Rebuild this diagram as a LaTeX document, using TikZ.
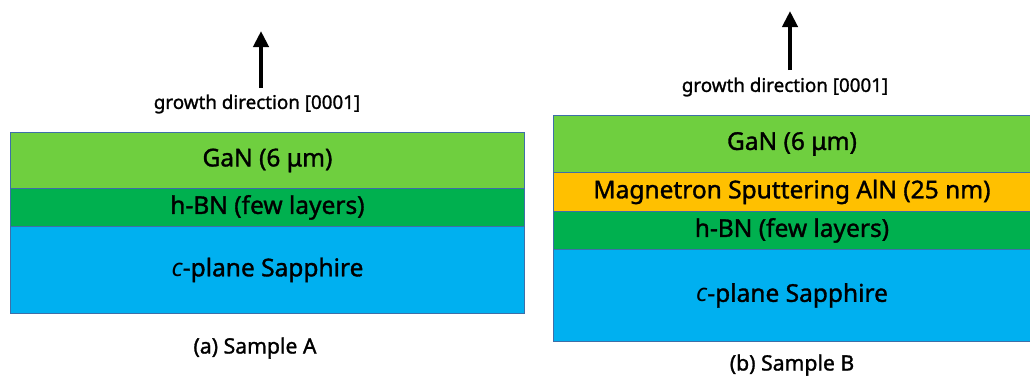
\documentclass[tikz,border=0pt]{standalone}
\usepackage{fontspec}
\setmainfont{Noto Sans}[AutoFakeBold=1.3]
\usetikzlibrary{arrows.meta}
\definecolor{ganc}{HTML}{6FCF3F}
\definecolor{hbnc}{HTML}{00B04F}
\definecolor{sapc}{HTML}{00B0F0}
\definecolor{alnc}{HTML}{FFC000}
\definecolor{edgec}{HTML}{3E6FA8}
\tikzset{
  layer/.style={draw=edgec, line width=0.9pt, anchor=north west, inner sep=0pt, font=\fontsize{24.5}{28}\selectfont\bfseries},
  growarrow/.style={line width=4pt, -{Triangle[width=15pt,length=16pt]}},
  growlabel/.style={font=\fontsize{18.8}{22}\selectfont\bfseries, inner sep=0pt},
  caption/.style={font=\fontsize{21.2}{25}\selectfont\bfseries, inner sep=0pt}
}
\begin{document}
\begin{tikzpicture}[x=1pt,y=-1pt]
\useasboundingbox (0,0) rectangle (1030,376);
% Sample A
\node[layer, fill=sapc, minimum width=514pt, minimum height=87pt] (aS) at (10,226) {\textit{c}-plane Sapphire};
\node[layer, fill=hbnc, minimum width=514pt, minimum height=38pt] (aH) at (10,188) {h-BN (few layers)};
\node[layer, fill=ganc, minimum width=514pt, minimum height=56pt] (aG) at (10,132) {GaN (6 μm)};
\node[growlabel] (aT) at (257,104) {growth direction [0001]};
\coordinate (aA0) at (261,88);
\coordinate (aA1) at (261,31);
\draw[growarrow] (aA0) -- (aA1);
\node[caption] (aC) at (255,348) {(a) Sample A};
% Sample B
\node[layer, fill=sapc, minimum width=477pt, minimum height=92pt] (bS) at (553,249) {\textit{c}-plane Sapphire};
\node[layer, fill=hbnc, minimum width=477pt, minimum height=38pt] (bH) at (553,211) {h-BN (few layers)};
\node[layer, fill=alnc, minimum width=477pt, minimum height=39pt] (bA) at (553,172) {Magnetron Sputtering AlN (25 nm)};
\node[layer, fill=ganc, minimum width=477pt, minimum height=57pt] (bG) at (553,115) {GaN (6 μm)};
\node[growlabel] (bT) at (785,87) {growth direction [0001]};
\coordinate (bA0) at (790,70);
\coordinate (bA1) at (790,11);
\draw[growarrow] (bA0) -- (bA1);
\node[caption] (bC) at (792,365) {(b) Sample B};
\end{tikzpicture}
\end{document}
